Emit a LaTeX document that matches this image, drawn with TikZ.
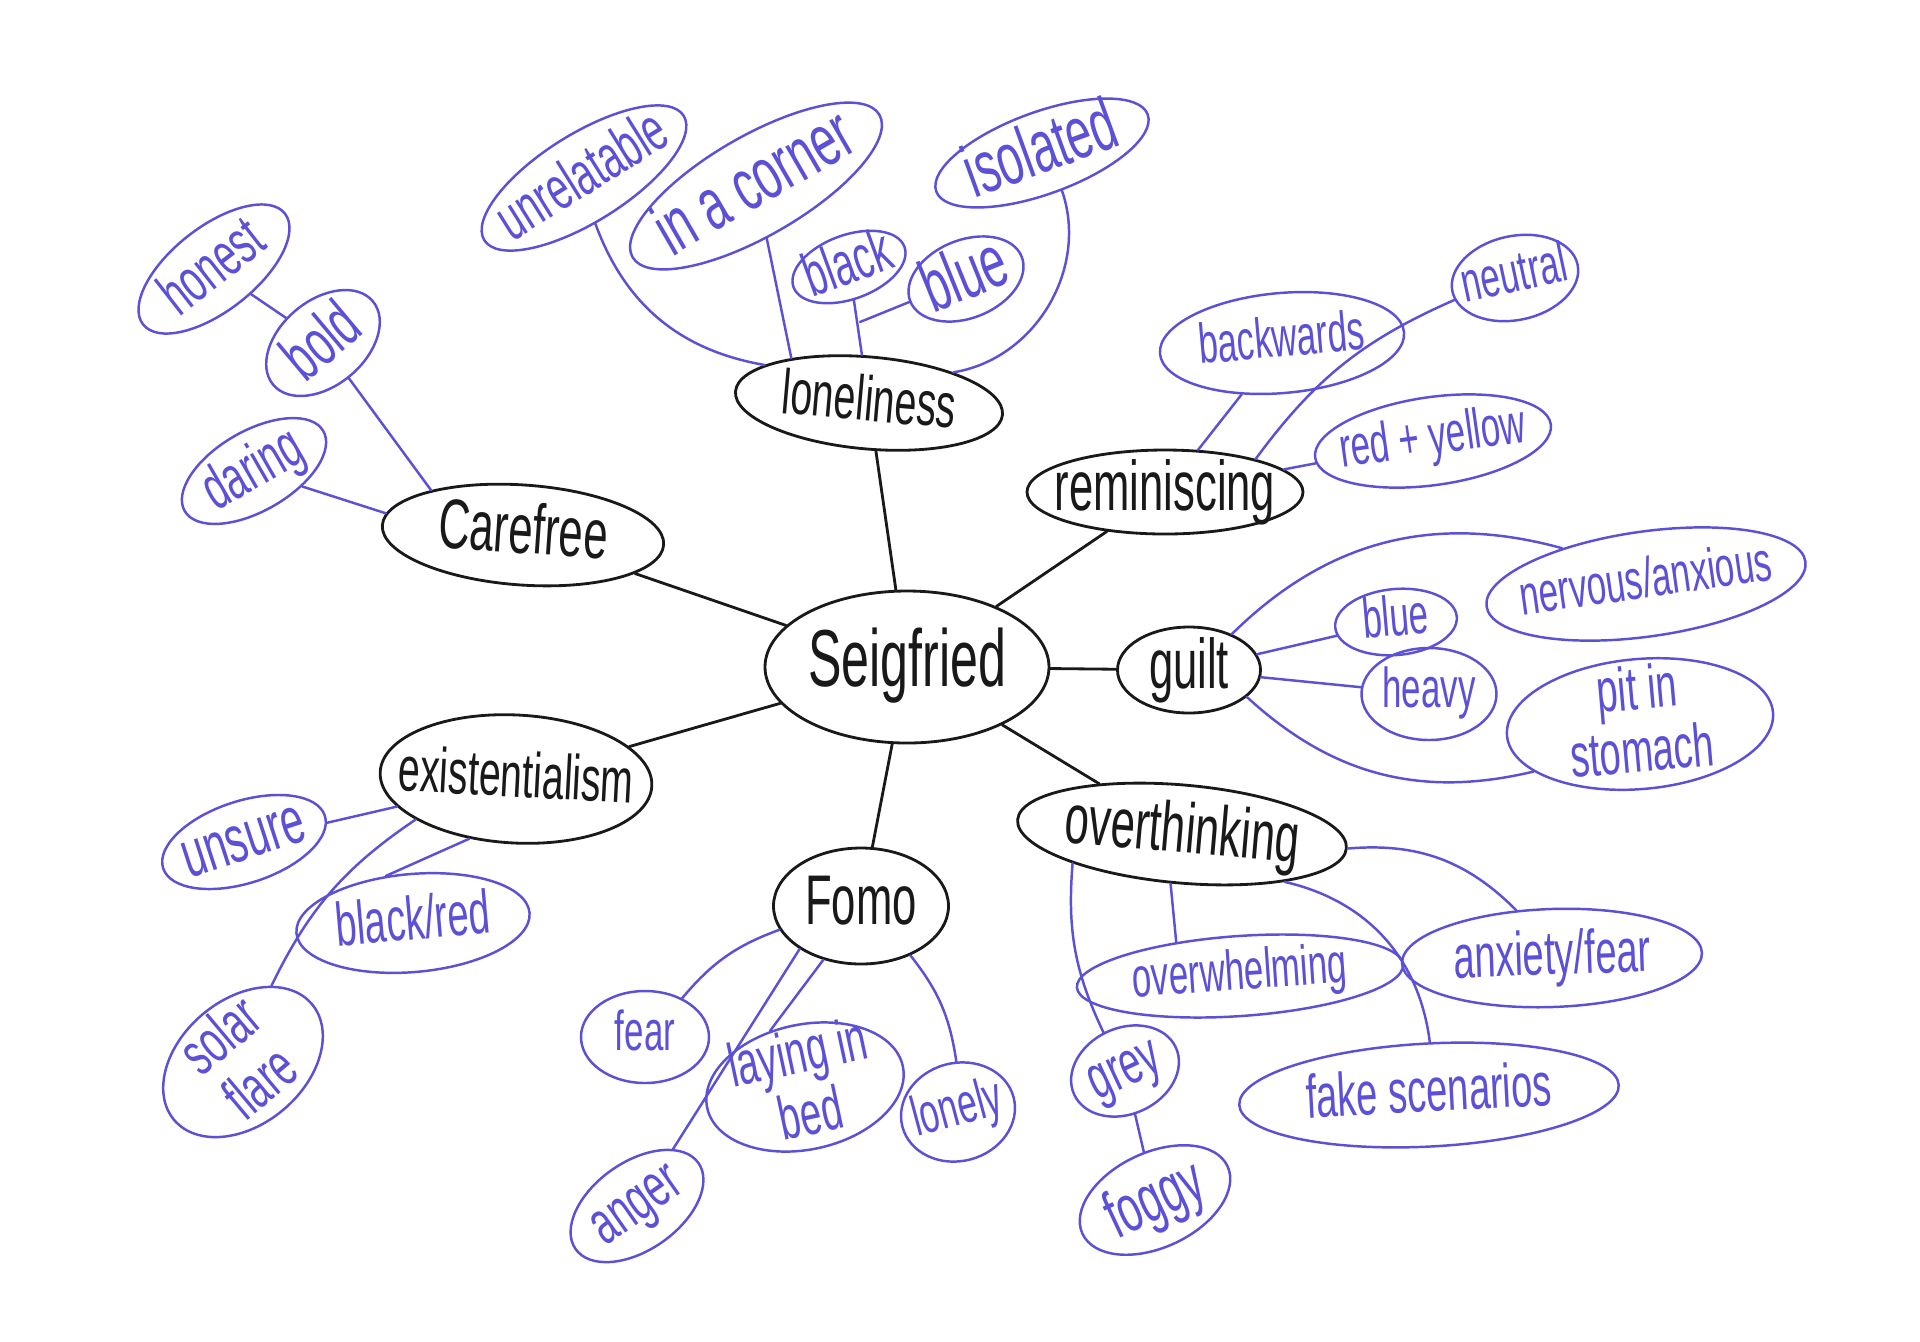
\documentclass[tikz,border=0pt]{standalone}
\usepackage{fontspec}
\setmainfont{Liberation Sans}[FakeStretch=0.62]
\usetikzlibrary{shapes.geometric}

\definecolor{ink}{RGB}{92,80,214}
\definecolor{pen}{RGB}{25,25,25}
\newcommand{\hw}[1]{\makebox[0pt]{\raisebox{-0.3em}{\begin{tabular}{@{}c@{}}#1\end{tabular}}}}
\tikzset{oval/.style 2 args={minimum width=#1*0.01cm,minimum height=#2*0.01cm}}

\begin{document}
\begin{tikzpicture}[x=0.01cm,y=-0.01cm,line cap=round,line join=round]
  \tikzstyle{topic}=[ellipse,draw=pen,line width=0.8pt,inner sep=0pt,text=pen,
    text height=0pt,text depth=0pt,font=\fontsize{20}{22}\selectfont]
  \tikzstyle{idea}=[ellipse,draw=ink,line width=0.7pt,inner sep=0pt,text=ink,
    text height=0pt,text depth=0pt,font=\fontsize{17.5}{17}\selectfont]
  \tikzstyle{ideaL}=[idea,font=\fontsize{19}{18}\selectfont]
  \tikzstyle{ideaS}=[idea,font=\fontsize{16}{17}\selectfont]

  \fill[white] (0,0) rectangle (1920,1341);

  % main topics
  \node[topic,oval={284}{152},font=\fontsize{23}{24}\selectfont] (seig) at (907,667) {\hw{Seigfried}};
  \node[topic,oval={268}{92},rotate=-5,font=\fontsize{18}{20}\selectfont] (lone) at (869,403) {\hw{loneliness}};
  \node[topic,oval={282}{100},rotate=-4] (care) at (523,535) {\hw{Carefree}};
  \node[topic,oval={276}{84}] (remi) at (1165,492) {\hw{reminiscing}};
  \node[topic,oval={143}{86}] (guilt) at (1189,670) {\hw{guilt}};
  \node[topic,oval={272}{128},rotate=-3,font=\fontsize{18}{20}\selectfont] (exis) at (516,779) {\hw{existentialism}};
  \node[topic,oval={175}{116}] (fomo) at (861,906) {\hw{Fomo}};
  \node[topic,oval={330}{98},rotate=-5] (over) at (1182,834) {\hw{overthinking}};

  % carefree
  \node[idea,oval={180}{84},rotate=38] (honest) at (214,269) {\hw{honest}};
  \node[ideaL,oval={130}{85},rotate=40] (bold) at (323,343) {\hw{bold}};
  \node[idea,oval={160}{80},rotate=30] (daring) at (254,471) {\hw{daring}};

  % loneliness
  \node[idea,oval={235}{88},rotate=32] (unrel) at (584,178) {\hw{unrelatable}};
  \node[ideaL,oval={285}{100},rotate=30,font=\fontsize{21}{21}\selectfont] (corner) at (756,186) {\hw{in a corner}};
  \node[idea,oval={118}{64},rotate=20] (blk) at (849,267) {\hw{black}};
  \node[ideaL,oval={120}{78},rotate=22,font=\fontsize{21}{21}\selectfont] (bluetop) at (966,279) {\hw{blue}};
  \node[ideaL,oval={225}{82},rotate=20,font=\fontsize{21}{21}\selectfont] (iso) at (1042,153) {\hw{isolated}};
  \coordinate (blkjoin) at (860,322);

  % reminiscing
  \node[ideaS,oval={245}{100},rotate=5] (back) at (1282,343) {\hw{backwards}};
  \node[ideaS,oval={128}{84},rotate=12] (neut) at (1515,278) {\hw{neutral}};
  \node[ideaS,oval={238}{88},rotate=8] (redy) at (1433,441) {\hw{red + yellow}};

  % guilt
  \node[ideaS,oval={322}{105},rotate=8] (nerv) at (1646,584) {\hw{nervous/anxious}};
  \node[ideaS,oval={122}{66},rotate=5] (blueR) at (1396,622) {\hw{blue}};
  \node[ideaS,oval={135}{92}] (heavy) at (1429,694) {\hw{heavy}};
  \node[idea,oval={267}{130},rotate=5] (pit) at (1640,724) {\hw{pit in\\stomach}};

  % overthinking
  \node[ideaS,oval={327}{80},rotate=4] (overw) at (1240,976) {\hw{overwhelming}};
  \node[idea,oval={300}{98},rotate=2] (anx) at (1552,958) {\hw{anxiety/fear}};
  \node[idea,oval={380}{103},rotate=3] (fake) at (1429,1095) {\hw{fake scenarios}};
  \node[idea,oval={112}{86},rotate=25] (grey) at (1125,1071) {\hw{grey}};
  \node[ideaL,oval={160}{95},rotate=25] (foggy) at (1155,1200) {\hw{foggy}};

  % existentialism
  \node[ideaL,oval={170}{82},rotate=18] (unsure) at (244,842) {\hw{unsure}};
  \node[idea,oval={234}{98},rotate=5] (blackred) at (413,923) {\hw{black/red}};
  \node[idea,oval={180}{125},rotate=40] (solar) at (243,1062) {\hw{solar\\flare}};

  % fomo
  \node[ideaS,oval={128}{92}] (fear) at (645,1037) {\hw{fear}};
  \node[idea,oval={200}{125},rotate=12] (bed) at (805,1087) {\hw{laying in\\bed}};
  \node[ideaS,oval={115}{98},rotate=15] (lonely) at (958,1112) {\hw{lonely}};
  \node[idea,oval={150}{88},rotate=35] (anger) at (637,1206) {\hw{anger}};

  \path[color=pen,line width=0.8pt]
    (seig) edge (lone)
           edge (care)
           edge (remi)
           edge (guilt)
           edge (exis)
           edge (fomo)
           edge (over);

  \path[color=ink,line width=0.7pt]
    (honest) edge (bold)
    (bold) edge (care.158)
    (daring) edge (care.175)
    (lone.165) edge [bend left=30] (unrel)
    (lone.155) edge (corner)
    (lone) edge (blk)
    (lone.25) edge [bend right=50] (iso)
    (bluetop) edge (blkjoin)
    (remi) edge (back)
           edge (redy)
    (remi.20) edge [bend left=15] (neut)
    (guilt) edge (blueR)
            edge (heavy)
    (guilt.40) edge [bend left=30] (nerv)
    (guilt.-25) edge [bend right=28] (pit)
    (over.262) edge (overw.148)
    (over.200) edge [bend right=15] (grey)
    (over.east) edge [bend left=25] (anx)
    (over.340) edge [bend left=35] (fake)
    (grey) edge (foggy)
    (exis) edge (unsure)
    (exis.235) edge (blackred.115)
    (exis.205) edge [bend right=15] (solar)
    (fomo) edge [bend right=15] (fear)
    (fomo.235) edge (bed.110)
    (fomo.215) edge (anger)
    (fomo.-45) edge [bend left=15] (lonely);
\end{tikzpicture}
\end{document}
